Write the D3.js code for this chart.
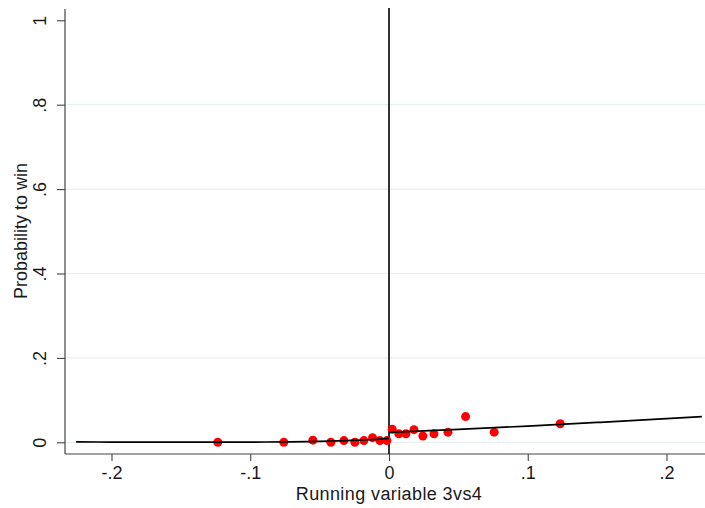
<!DOCTYPE html>
<html>
<head>
<meta charset="utf-8">
<script src="https://cdn.jsdelivr.net/npm/d3@7"></script>
<style>
  html, body { margin: 0; padding: 0; background: #fff; }
  svg { display: block; }
  text { font-family: "Liberation Sans", Arial, sans-serif; fill: #1a1a1a; }
</style>
</head>
<body>
<svg id="chart" width="705" height="508"></svg>
<script>
// Binned scatter points (x = running variable, y = share winning)
const pointX = [-0.1234, -0.0758, -0.0549, -0.0419, -0.0325, -0.0246, -0.0181, -0.0119, -0.0066, -0.0015,
                0.0023, 0.0071, 0.0122, 0.0180, 0.0244, 0.0324, 0.0425, 0.0552, 0.0758, 0.1234];
const pointY = [0.000, 0.000, 0.005, 0.000, 0.004, 0.000, 0.004, 0.011, 0.004, 0.004,
                0.031, 0.020, 0.020, 0.030, 0.015, 0.020, 0.024, 0.061, 0.024, 0.044];

// Fitted curves, left and right of the cutoff
const leftFitX = [-0.2255, -0.2, -0.15, -0.1, -0.075, -0.05, -0.03, -0.015, 0];
const leftFitY = [0.0012, 0.0006, 0.0003, 0.0006, 0.0010, 0.0020, 0.0040, 0.0060, 0.0095];
const rightFitX = [0, 0.05, 0.1, 0.15, 0.2, 0.2255];
const rightFitY = [0.0235, 0.0305, 0.0385, 0.0470, 0.0560, 0.0610];

// Tick values and labels
const xTicks = [-0.2, -0.1, 0, 0.1, 0.2];
const xTickLabels = ["-.2", "-.1", "0", ".1", ".2"];
const yTicks = [0, 0.2, 0.4, 0.6, 0.8, 1];
const yTickLabels = ["0", ".2", ".4", ".6", ".8", "1"];
const gridTicks = [0, 0.2, 0.4, 0.6, 0.8];

const xTitle = "Running variable 3vs4";
const yTitle = "Probability to win";

const svg = d3.select("#chart");
const W = 705, H = 508;
const plotLeft = 65, plotRight = 705, plotTop = 8, axisY = 454;

const x = d3.scaleLinear().domain([-0.2, 0.2]).range([111.5, 666.5]);
const y = d3.scaleLinear().domain([0, 1]).range([442.3, 20.3]);

// gridlines
svg.append("g").selectAll("line").data(gridTicks).join("line")
  .attr("x1", plotLeft).attr("x2", plotRight)
  .attr("y1", d => y(d)).attr("y2", d => y(d))
  .attr("stroke", "#e8f0f2").attr("stroke-width", 1.2);

// x axis
const xAxis = d3.axisBottom(x).tickValues(xTicks)
  .tickFormat((d, i) => xTickLabels[i]).tickSize(7).tickSizeOuter(0);
const gx = svg.append("g").attr("transform", `translate(0,${axisY})`).call(xAxis);
gx.select(".domain").remove();
gx.selectAll(".tick line").attr("stroke", "#444").attr("stroke-width", 1.1);
gx.selectAll(".tick text").attr("y", 25).attr("dy", 0)
  .attr("font-size", 18).attr("fill", "#1a1a1a")
  .style("font-family", "'Liberation Sans', Arial, sans-serif");
svg.append("line").attr("x1", plotLeft).attr("x2", W).attr("y1", axisY).attr("y2", axisY)
  .attr("stroke", "#444").attr("stroke-width", 1.2);

// y axis
const yAxis = d3.axisLeft(y).tickValues(yTicks)
  .tickFormat((d, i) => yTickLabels[i]).tickSize(8).tickSizeOuter(0);
const gy = svg.append("g").attr("transform", `translate(${plotLeft},0)`).call(yAxis);
gy.select(".domain").remove();
gy.selectAll(".tick line").attr("stroke", "#444").attr("stroke-width", 1.1);
gy.selectAll(".tick text")
  .attr("x", null).attr("dy", 0)
  .attr("transform", "translate(-19,0) rotate(-90)")
  .attr("text-anchor", "middle")
  .attr("font-size", 18).attr("fill", "#1a1a1a")
  .style("font-family", "'Liberation Sans', Arial, sans-serif");
svg.append("line").attr("x1", plotLeft).attr("x2", plotLeft).attr("y1", plotTop + 1).attr("y2", axisY)
  .attr("stroke", "#444").attr("stroke-width", 1.2);

// cutoff line
svg.append("line").attr("x1", x(0)).attr("x2", x(0)).attr("y1", plotTop).attr("y2", axisY)
  .attr("stroke", "#000").attr("stroke-width", 1.6);

// points
const pts = pointX.map((v, i) => ({x: v, y: pointY[i]}));
svg.append("g").selectAll("circle").data(pts).join("circle")
  .attr("cx", d => x(d.x)).attr("cy", d => y(d.y)).attr("r", 4.5)
  .attr("fill", "#ff0000");

// fitted curves
const line = d3.line().x(d => x(d.x)).y(d => y(d.y)).curve(d3.curveMonotoneX);
const leftFit = leftFitX.map((v, i) => ({x: v, y: leftFitY[i]}));
const rightFit = rightFitX.map((v, i) => ({x: v, y: rightFitY[i]}));
[leftFit, rightFit].forEach(dat => {
  svg.append("path").datum(dat).attr("d", line)
    .attr("fill", "none").attr("stroke", "#000").attr("stroke-width", 1.7);
});

// titles
svg.append("text").attr("x", 389).attr("y", 500).attr("text-anchor", "middle")
  .attr("font-size", 18).attr("letter-spacing", "0.4px").text(xTitle);
svg.append("text").attr("transform", "translate(26.5,231) rotate(-90)")
  .attr("text-anchor", "middle").attr("font-size", 18).text(yTitle);
</script>
</body>
</html>
